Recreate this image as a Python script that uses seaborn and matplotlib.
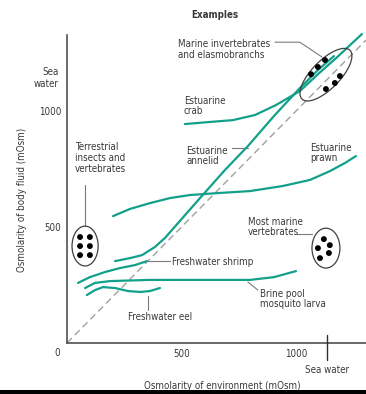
import matplotlib
matplotlib.use("Agg")
import matplotlib.pyplot as plt
from matplotlib import font_manager
from matplotlib.patches import Ellipse, Rectangle
import numpy as np
import pandas as pd
import seaborn as sns

# Osmolarity of environment (x) vs osmolarity of body fluid (y), mOsm
crab_env = [515, 624, 725, 821, 913, 1017, 1096, 1175, 1288]
crab_body = [944, 953, 961, 983, 1026, 1086, 1159, 1228, 1332]

annelid_env = [210, 275, 328, 384, 428, 493, 581, 690, 790, 908, 1017, 1096, 1166]
annelid_body = [353, 366, 379, 414, 453, 526, 625, 746, 849, 983, 1099, 1177, 1237]

prawn_env = [201, 275, 362, 450, 537, 668, 799, 943, 1061, 1148, 1214, 1262]
prawn_body = [547, 578, 603, 625, 638, 647, 655, 677, 703, 741, 776, 806]

shrimp_env = [48, 100, 166, 231, 297, 349]
shrimp_body = [259, 284, 306, 323, 336, 353]

brine_env = [79, 122, 188, 362, 581, 799, 904, 1000]
brine_body = [237, 259, 267, 272, 272, 272, 284, 310]

eel_env = [87, 122, 157, 210, 266, 319, 362, 406]
eel_body = [207, 228, 241, 237, 224, 220, 224, 237]

# Groups of individual species shown as dots
terrestrial_env = [57, 100, 57, 100, 57, 100]
terrestrial_body = [457, 457, 418, 418, 379, 379]

marine_vert_env = [1122, 1096, 1148, 1144, 1105]
marine_vert_body = [448, 409, 422, 388, 366]

marine_invert_env = [1127, 1096, 1066, 1192, 1170, 1131]
marine_invert_body = [1220, 1190, 1159, 1151, 1121, 1095]

SEA_WATER_X = 1135
SEA_WATER_Y = 1150
x_ticks = [500, 1000]
y_ticks = [500, 1000]

TEAL = "#13a08b"
TEXT = "#383838"
AXIS = "#505050"
LEADER = "#7a7a7a"

sns.set_style("white")

# pick a narrow sans face when one is available
available = {(f.name, f.stretch) for f in font_manager.fontManager.ttflist}
names = {f.name for f in font_manager.fontManager.ttflist}
if "Liberation Sans Narrow" in names:
    plt.rcParams["font.family"] = ["Liberation Sans Narrow", "DejaVu Sans"]
    FS = 8.2
elif any(n == "DejaVu Sans" and s == "condensed" for n, s in available):
    plt.rcParams["font.family"] = ["DejaVu Sans"]
    plt.rcParams["font.stretch"] = "condensed"
    FS = 7.0
else:
    plt.rcParams["font.family"] = ["Roboto", "DejaVu Sans"]
    FS = 7.0
plt.rcParams["text.color"] = TEXT

fig = plt.figure(figsize=(3.66, 3.94), dpi=100)
ax = fig.add_axes([67 / 366, 51 / 394, 299 / 366, 308 / 394])
ax.set_xlim(0, 1306)
ax.set_ylim(0, 1328)

curves = {
    "Estuarine crab": (crab_env, crab_body),
    "Estuarine annelid": (annelid_env, annelid_body),
    "Estuarine prawn": (prawn_env, prawn_body),
    "Freshwater shrimp": (shrimp_env, shrimp_body),
    "Brine pool mosquito larva": (brine_env, brine_body),
    "Freshwater eel": (eel_env, eel_body),
}
df = pd.concat(
    [pd.DataFrame({"species": k, "env": v[0], "body": v[1]}) for k, v in curves.items()],
    ignore_index=True,
)

# isosmotic line
iso = pd.DataFrame({"env": [0, 1306], "body": [0, 1306]})
sns.lineplot(data=iso, x="env", y="body", ax=ax, color="#a0a0a0",
             lw=1.0, linestyle=(0, (5, 3)), zorder=1)

sns.lineplot(data=df, x="env", y="body", units="species", estimator=None,
             sort=False, ax=ax, color=TEAL, lw=1.6, clip_on=False, zorder=3)

dots = pd.DataFrame({
    "env": terrestrial_env + marine_vert_env + marine_invert_env,
    "body": terrestrial_body + marine_vert_body + marine_invert_body,
})
sns.scatterplot(data=dots, x="env", y="body", ax=ax, color="black", s=18,
                edgecolor="none", zorder=5)

# group outlines
for (cx, cy), w, h, ang in [((79, 418), 114, 172, 0),
                            ((1131, 409), 122, 172, 0),
                            ((1131, 1157), 297, 122, 45)]:
    ax.add_patch(Ellipse((cx, cy), w, h, angle=ang, fill=False,
                         edgecolor="#404040", lw=0.9, zorder=4))

# leader lines
leaders = [
    ([908, 1017, 1114], [1297, 1297, 1233]),
    ([721, 790], [841, 841]),
    ([79, 79], [681, 504]),
    ([1004, 1070], [470, 470]),
    ([354, 450], [353, 353]),
    ([790, 834], [263, 228]),
    ([354, 354], [203, 142]),
]
for lx, ly in leaders:
    ax.plot(lx, ly, color=LEADER, lw=0.8, zorder=2)

# labels
def label(x, y, s, **kw):
    ax.text(x, y, s, fontsize=FS, color=TEXT, va="center", ha="left",
            linespacing=1.1, **kw)

label(485, 1267, "Marine invertebrates\nand elasmobranchs")
label(511, 1022, "Estuarine\ncrab")
label(520, 806, "Estuarine\nannelid")
label(1061, 819, "Estuarine\nprawn")
label(35, 797, "Terrestrial\ninsects and\nvertebrates")
label(790, 500, "Most marine\nvertebrates")
label(459, 349, "Freshwater shrimp")
label(843, 190, "Brine pool\nmosquito larva")
label(266, 112, "Freshwater eel")

fig.text(215 / 366, 1 - 15 / 394, "Examples", fontsize=FS, fontweight="bold",
         ha="center", va="center", color=TEXT)

# axes
sns.despine(ax=ax)
for sp in ("left", "bottom"):
    ax.spines[sp].set_color(AXIS)
    ax.spines[sp].set_linewidth(1.2)

ax.set_xticks(x_ticks)
ax.set_xticklabels([str(t) for t in x_ticks])
ax.set_yticks(y_ticks)
ax.set_yticklabels([str(t) for t in y_ticks])
ax.tick_params(axis="both", which="major", direction="in", length=5.5,
               width=0.9, color=AXIS, labelsize=FS, labelcolor=TEXT, pad=4)
ax.set_yticks([SEA_WATER_Y], minor=True)
ax.set_yticklabels(["Sea\nwater"], minor=True)
ax.tick_params(axis="y", which="minor", direction="inout", length=9.5,
               width=1.0, color="#303030", labelsize=FS, labelcolor=TEXT, pad=1)
ax.plot([SEA_WATER_X, SEA_WATER_X], [34, -73], color="#303030", lw=1.0,
        clip_on=False, zorder=6)
ax.text(SEA_WATER_X, -117, "Sea water", fontsize=FS, ha="center",
        va="center", color=TEXT)
ax.text(-44, -43, "0", fontsize=FS, ha="center", va="center", color=TEXT)
ax.set_xlabel("")
ax.set_ylabel("")

fig.text(222 / 366, 1 - 386 / 394, "Osmolarity of environment (mOsm)",
         fontsize=FS, ha="center", va="center", color=TEXT)
fig.text(22 / 366, 1 - 200 / 394, "Osmolarity of body fluid (mOsm)",
         fontsize=FS, ha="center", va="center", rotation=90, color=TEXT)

# dark strip along the lower edge
fig.add_artist(Rectangle((0, 0), 1, 4.5 / 394, transform=fig.transFigure,
                         facecolor="black", edgecolor="none", zorder=20))

fig.savefig("out.png", dpi=100)
